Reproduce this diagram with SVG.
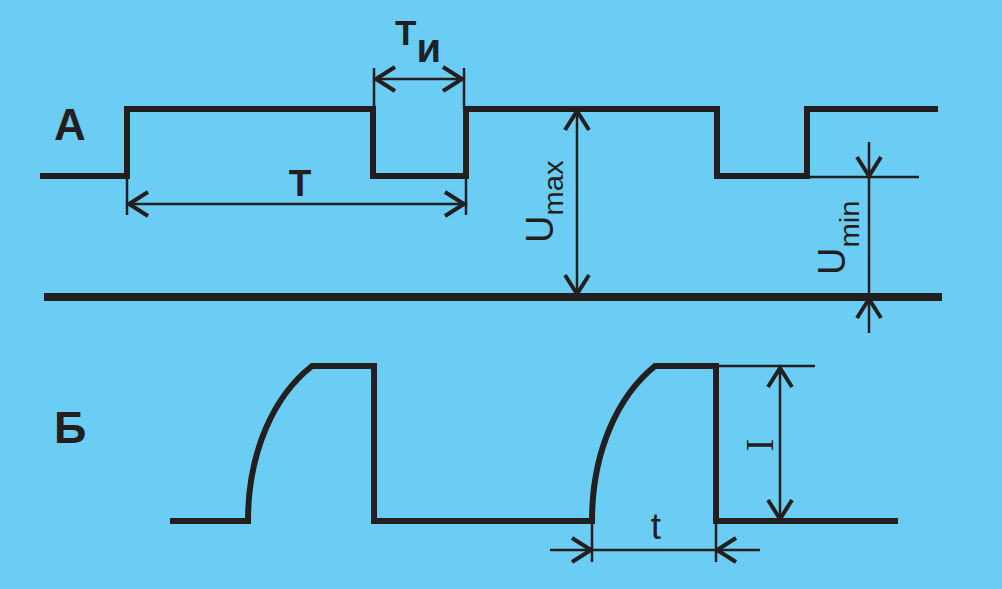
<svg xmlns="http://www.w3.org/2000/svg" xmlns:xlink="http://www.w3.org/1999/xlink" width="1002" height="589" viewBox="0 0 1002 589">
<defs>
<style>
.wave{fill:none;stroke:#231f20;stroke-width:6;stroke-linejoin:miter;stroke-linecap:butt}
.base{fill:none;stroke:#231f20;stroke-width:8}
.dim{fill:none;stroke:#231f20;stroke-width:2.5}
.head{fill:none;stroke:#231f20;stroke-width:4;stroke-linecap:butt;stroke-linejoin:miter}
.lbl{fill:#231f20;font-family:"Liberation Sans",Arial,sans-serif}
.b{font-weight:bold}
</style>
<path id="ah" class="head" d="M-19,-12 L0,0 L-19,12"/>
</defs>
<rect width="1002" height="589" fill="#6ccdf4"/>
<g id="waveA">
<path class="wave" d="M40,176 H127 V109 H373 V176 H466 V109 H717 V176 H807 V109 H938"/>
</g>
<g id="baseline">
<path class="base" d="M44,297 H942"/>
</g>
<g id="waveB">
<path class="wave" d="M170,521 H248 C248,450 275,395 312,366 H374 V521 H592 C592,450 619,395 655,366 H716 V521 H898"/>
</g>
<g id="connectors">
<!-- T dimension -->
<path class="dim" d="M127,176 V215 M466,176 V215 M128,204 H465"/>
<use xlink:href="#ah" transform="translate(129,204) rotate(180)"/>
<use xlink:href="#ah" transform="translate(464,204)"/>
<!-- Tи dimension -->
<path class="dim" d="M374,68 V176 M464,68 V109 M375,79 H463"/>
<use xlink:href="#ah" transform="translate(376,79) rotate(180)"/>
<use xlink:href="#ah" transform="translate(462,79)"/>
<!-- Umax -->
<path class="dim" d="M577,110 V295"/>
<use xlink:href="#ah" transform="translate(577,111) rotate(-90)"/>
<use xlink:href="#ah" transform="translate(577,294) rotate(90)"/>
<!-- Umin -->
<path class="dim" d="M807,177 H919 M869,142 V333"/>
<use xlink:href="#ah" transform="translate(869,176) rotate(90)"/>
<use xlink:href="#ah" transform="translate(869,299) rotate(-90)"/>
<!-- I -->
<path class="dim" d="M716,366 H815 M780,367 V520"/>
<use xlink:href="#ah" transform="translate(780,368) rotate(-90)"/>
<use xlink:href="#ah" transform="translate(780,519) rotate(90)"/>
<!-- t -->
<path class="dim" d="M592,521 V562 M716,521 V562 M550,550 H760"/>
<use xlink:href="#ah" transform="translate(591,550)"/>
<use xlink:href="#ah" transform="translate(717,550) rotate(180)"/>
</g>
<g id="labels">
<text class="lbl b" x="54" y="140" font-size="44">А</text>
<text class="lbl b" x="54" y="443" font-size="45">Б</text>
<text class="lbl b" x="300" y="196" font-size="37" text-anchor="middle">Т</text>
<text class="lbl b" x="395" y="45" font-size="35">Т<tspan font-size="40" dy="17">и</tspan></text>
<text class="lbl" transform="translate(553,243) rotate(-90)" font-size="38">U<tspan font-size="27" dy="10" textLength="55" lengthAdjust="spacingAndGlyphs">max</tspan></text>
<text class="lbl" transform="translate(845,275) rotate(-90)" font-size="38">U<tspan font-size="27" dy="14" textLength="47" lengthAdjust="spacingAndGlyphs">min</tspan></text>
<text class="lbl" x="656" y="539" font-size="37" text-anchor="middle">t</text>
<text transform="translate(773,445) rotate(-90)" font-size="39" text-anchor="middle" fill="#231f20" font-family="'Liberation Serif','Times New Roman',serif">I</text>
</g>
</svg>
